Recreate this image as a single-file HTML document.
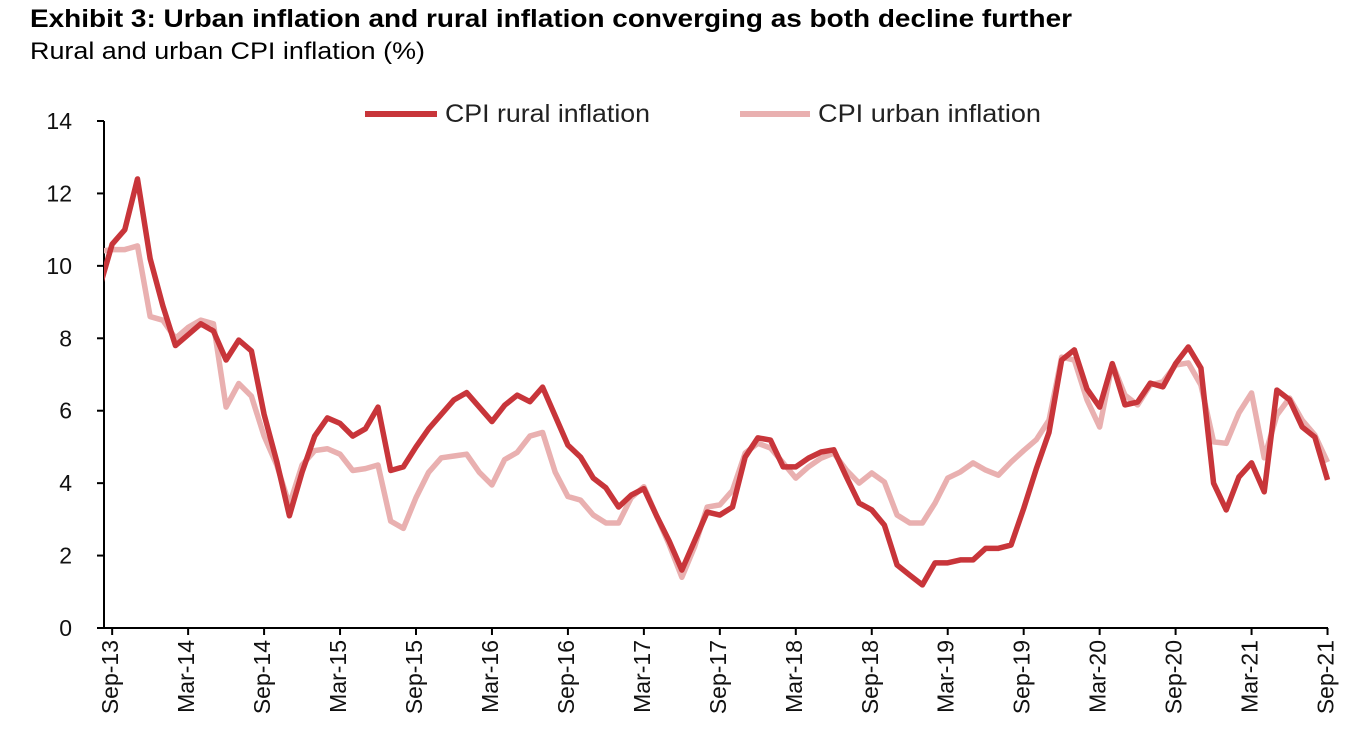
<!DOCTYPE html>
<html><head><meta charset="utf-8"><style>
body{margin:0;background:#fff;width:1358px;height:749px;overflow:hidden;font-family:"Liberation Sans",sans-serif}
</style></head><body>
<svg width="1358" height="749" style="position:absolute;left:0;top:0">
<text x="30" y="27" font-size="25" font-weight="bold" fill="#000" textLength="1042" lengthAdjust="spacingAndGlyphs">Exhibit 3: Urban inflation and rural inflation converging as both decline further</text>
<text x="30" y="59" font-size="24" fill="#000" textLength="395" lengthAdjust="spacingAndGlyphs">Rural and urban CPI inflation (%)</text>
<g id="axes"></g>
<defs><clipPath id="pc"><rect x="104" y="100" width="1240" height="540"/></clipPath></defs>
<g id="series" clip-path="url(#pc)"></g>
<g>
<line x1="365" y1="114" x2="437" y2="114" stroke="#c8353a" stroke-width="6"/>
<text x="445" y="122" font-size="25" fill="#222" textLength="205" lengthAdjust="spacingAndGlyphs">CPI rural inflation</text>
<line x1="740" y1="114" x2="810" y2="114" stroke="#e9b0b0" stroke-width="6"/>
<text x="818" y="122" font-size="25" fill="#222" textLength="223" lengthAdjust="spacingAndGlyphs">CPI urban inflation</text>
</g>
</svg>
<script>
const yTicks=[0,2,4,6,8,10,12,14];
const xTickLabels=["Sep-13","Mar-14","Sep-14","Mar-15","Sep-15","Mar-16","Sep-16","Mar-17","Sep-17","Mar-18","Sep-18","Mar-19","Sep-19","Mar-20","Sep-20","Mar-21","Sep-21"];
// monthly from Aug-13 to Sep-21
const rural=[9.4,10.6,11.0,12.4,10.2,8.9,7.8,8.1,8.4,8.2,7.4,7.95,7.65,5.9,4.6,3.1,4.3,5.3,5.8,5.65,5.3,5.5,6.1,4.35,4.45,5.0,5.5,5.9,6.3,6.5,6.1,5.7,6.15,6.43,6.25,6.65,5.85,5.05,4.72,4.14,3.87,3.34,3.67,3.85,3.1,2.4,1.6,2.4,3.2,3.12,3.34,4.72,5.25,5.19,4.45,4.45,4.69,4.86,4.92,4.17,3.45,3.26,2.84,1.74,1.46,1.19,1.8,1.8,1.88,1.88,2.2,2.2,2.29,3.3,4.4,5.4,7.4,7.68,6.6,6.1,7.3,6.16,6.24,6.76,6.66,7.3,7.76,7.18,4.0,3.26,4.17,4.56,3.76,6.57,6.3,5.55,5.27,4.09];
const urban=[10.4,10.45,10.45,10.55,8.6,8.5,8.0,8.3,8.5,8.4,6.1,6.75,6.4,5.3,4.5,3.4,4.5,4.9,4.95,4.8,4.35,4.4,4.5,2.95,2.75,3.6,4.3,4.7,4.75,4.8,4.3,3.95,4.65,4.85,5.3,5.4,4.3,3.63,3.53,3.12,2.9,2.9,3.6,3.9,3.1,2.3,1.4,2.24,3.34,3.4,3.8,4.83,5.1,4.97,4.56,4.14,4.45,4.69,4.83,4.36,4.0,4.28,4.03,3.12,2.9,2.9,3.45,4.14,4.31,4.56,4.36,4.22,4.58,4.9,5.2,5.74,7.48,7.4,6.3,5.55,7.3,6.43,6.16,6.71,6.8,7.26,7.32,6.71,5.14,5.1,5.94,6.49,4.7,5.88,6.35,5.74,5.33,4.58];
const NS='http://www.w3.org/2000/svg';
const X=j=>99.5+12.66*j, Y=v=>628-v*36.214;
const axes=document.getElementById('axes'), ser=document.getElementById('series');
function mk(tag,at,parent){const e=document.createElementNS(NS,tag);for(const k in at)e.setAttribute(k,at[k]);parent.appendChild(e);return e;}
let e=mk('line',{x1:104,y1:121,x2:104,y2:629,stroke:'#000','stroke-width':2},axes);


e=mk('line',{x1:103,y1:628,x2:1328,y2:628,stroke:'#000','stroke-width':2},axes);


yTicks.forEach(v=>{
 const t=mk('line',{x1:97,y1:Y(v),x2:104,y2:Y(v),stroke:'#000','stroke-width':2},axes);
 
 
 const l=mk('text',{x:72,y:Y(v)+8,'font-size':23,'text-anchor':'end',fill:'#111'},axes);
 l.textContent=v;
 
 
});
xTickLabels.forEach((s,i)=>{
 const j=1+i*6,x=X(j);
 const t=mk('line',{x1:x,y1:628,x2:x,y2:635,stroke:'#000','stroke-width':2},axes);
 
 
 const l=mk('text',{x:0,y:0,'font-size':23,'text-anchor':'end',fill:'#111',transform:`translate(${x+6},640) rotate(-90)`},axes);
 l.textContent=s;
 
 
});
function line(data,color,name){
 const p=mk('polyline',{points:data.map((v,j)=>X(j)+','+Y(v)).join(' '),fill:'none',stroke:color,'stroke-width':5.5,'stroke-linejoin':'round'},ser);
 
 
}
line(urban,'#e9b0b0','urban-cpi-line');
line(rural,'#c8353a','rural-cpi-line');
</script>
</body></html>
